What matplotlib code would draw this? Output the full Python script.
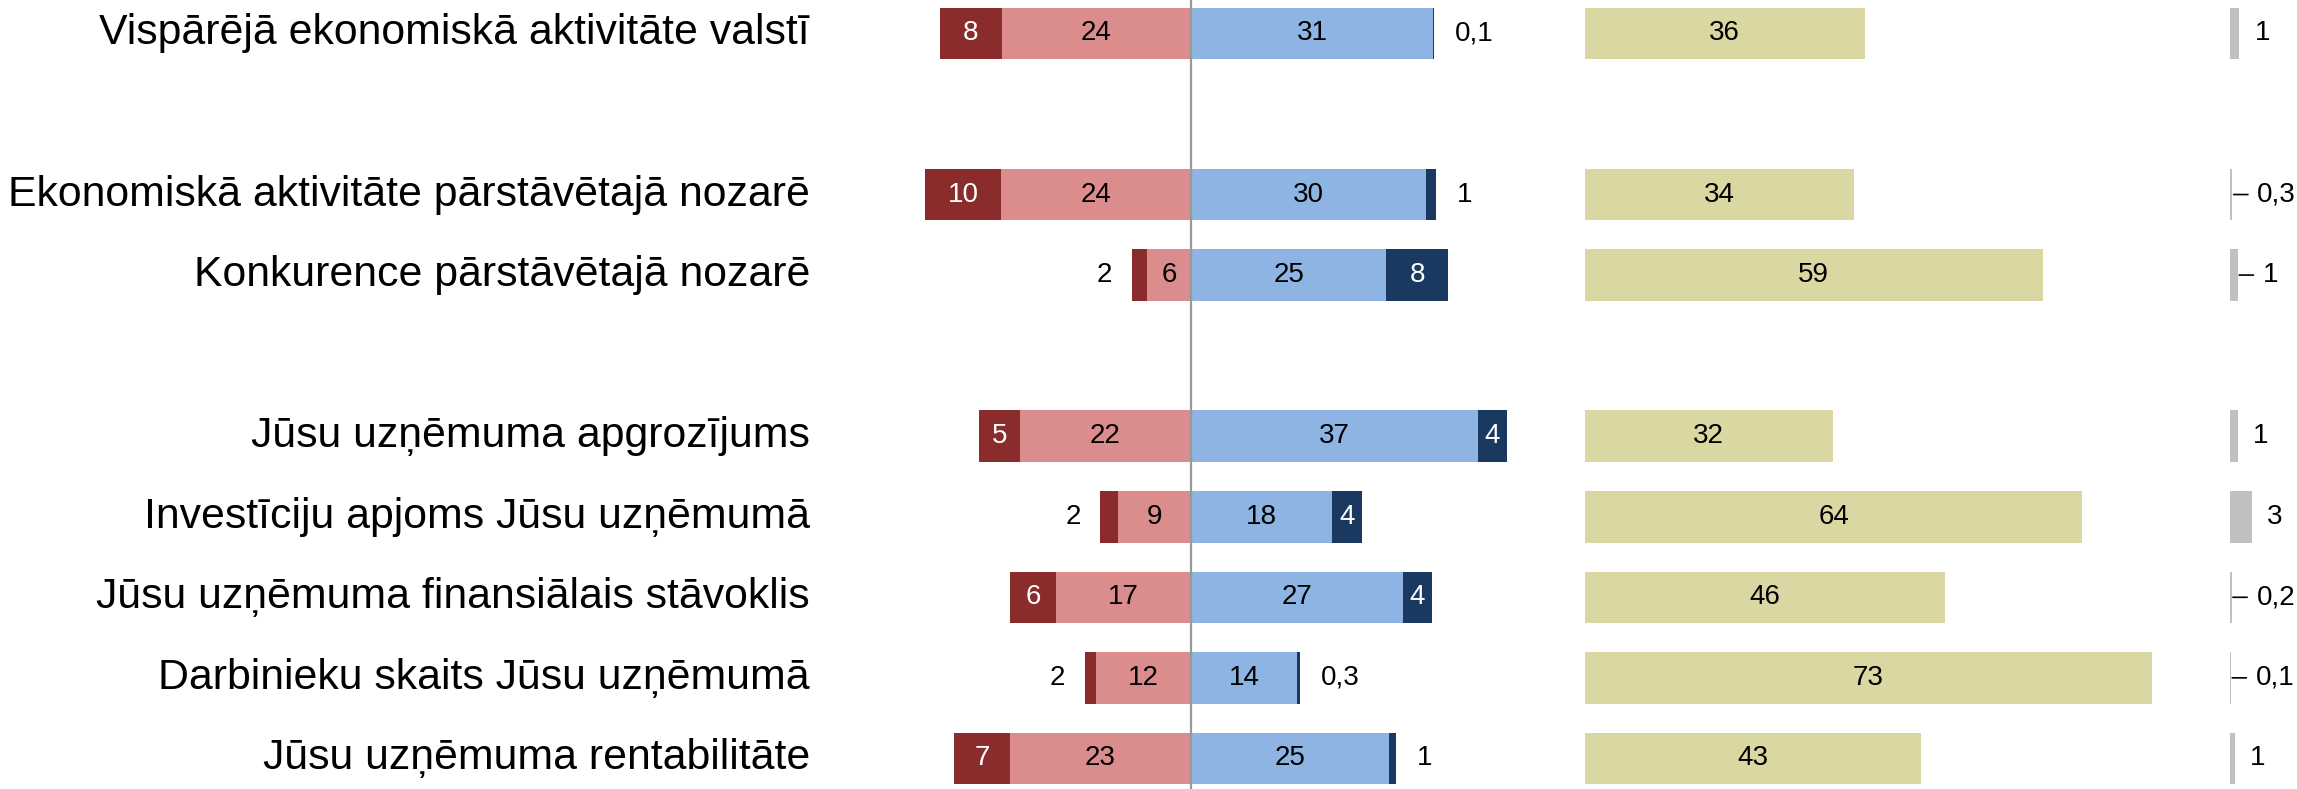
import numpy as np
import matplotlib
matplotlib.use("Agg")
import matplotlib.pyplot as plt
from matplotlib.transforms import blended_transform_factory

plt.rcParams['font.family'] = ['Liberation Sans', 'DejaVu Sans']

# data (percent of answers)
labels = ['Vispārējā ekonomiskā aktivitāte valstī',
          'Ekonomiskā aktivitāte pārstāvētajā nozarē',
          'Konkurence pārstāvētajā nozarē',
          'Jūsu uzņēmuma apgrozījums',
          'Investīciju apjoms Jūsu uzņēmumā',
          'Jūsu uzņēmuma finansiālais stāvoklis',
          'Darbinieku skaits Jūsu uzņēmumā',
          'Jūsu uzņēmuma rentabilitāte']
much_worse = [8.0, 9.8, 2.0, 5.3, 2.3, 5.9, 1.5, 7.1]
worse = [24.2, 24.3, 5.6, 21.9, 9.3, 17.3, 12.1, 23.2]
better = [31.0, 30.1, 25.0, 36.8, 18.1, 27.2, 13.6, 25.4]
much_better = [0.1, 1.3, 7.9, 3.6, 3.8, 3.6, 0.3, 0.8]
no_change = [35.8, 34.4, 58.6, 31.7, 63.7, 46.1, 72.6, 43.0]
no_answer = [1.2, 0.3, 1.0, 1.0, 2.8, 0.2, 0.1, 0.6]

rows = [0, 2, 3, 5, 6, 7, 8, 9]
leader_rows = [1, 2, 5, 6]   # grey labels drawn with a leader line

c_dred = '#8B2C2C'
c_lred = '#DA8D8C'
c_lblue = '#8DB4E3'
c_navy = '#1A3960'
c_khaki = '#DBD7A3'
c_grey = '#C0C0C0'


def fmt(v):
    if v < 0.5:
        return ('%.1f' % v).replace('.', ',')
    return str(int(round(v)))


W, H = 2297, 789
fig = plt.figure(figsize=(W / 100, H / 100), dpi=100)

ppu = 7.81          # pixels per percent, same in every panel
center = 1191
ylim = (9.38, -0.415)
bh = 0.64
fs = 20

ax1 = fig.add_axes([(center - 40 * ppu) / W, 0, 85 * ppu / W, 1])
ax1.set_xlim(-40, 45)
ax2 = fig.add_axes([1585 / W, 0, 80 * ppu / W, 1])
ax2.set_xlim(0, 80)
ax3 = fig.add_axes([2230 / W, 0, 8 * ppu / W, 1])
ax3.set_xlim(0, 8)
for ax in (ax1, ax2, ax3):
    ax.set_ylim(*ylim)
    ax.axis('off')

y = np.array(rows)
mw = np.array(much_worse)
w = np.array(worse)
b = np.array(better)
mb = np.array(much_better)

ax1.barh(y, -w, height=bh, color=c_lred)
ax1.barh(y, -mw, left=-w, height=bh, color=c_dred)
ax1.barh(y, b, height=bh, color=c_lblue)
ax1.barh(y, mb, left=b, height=bh, color=c_navy)
ax1.axvline(0, color='#999999', lw=1.6, zorder=5)

for i, yy in enumerate(rows):
    # light segments, labels inside
    ax1.text(-w[i] / 2, yy, fmt(w[i]), ha='center', va='center', fontsize=fs, color='black')
    ax1.text(b[i] / 2, yy, fmt(b[i]), ha='center', va='center', fontsize=fs, color='black')
    # dark red
    if mw[i] >= 3:
        ax1.text(-w[i] - mw[i] / 2, yy, fmt(mw[i]), ha='center', va='center',
                 fontsize=fs, color='white')
    else:
        ax1.annotate(fmt(mw[i]), (-w[i] - mw[i], yy), xytext=(-14, 0),
                     textcoords='offset points', ha='right', va='center',
                     fontsize=fs, color='black')
    # navy
    if mb[i] >= 3:
        ax1.text(b[i] + mb[i] / 2, yy, fmt(mb[i]), ha='center', va='center',
                 fontsize=fs, color='white')
    else:
        ax1.annotate(fmt(mb[i]), (b[i] + mb[i], yy), xytext=(15, 0),
                     textcoords='offset points', ha='left', va='center',
                     fontsize=fs, color='black')

# no change panel
ax2.barh(y, no_change, height=bh, color=c_khaki)
for i, yy in enumerate(rows):
    ax2.text(no_change[i] / 2, yy, fmt(no_change[i]), ha='center', va='center',
             fontsize=fs, color='black')

# no answer panel
ax3.barh(y, no_answer, height=bh, color=c_grey)
for i, yy in enumerate(rows):
    v = no_answer[i]
    if i in leader_rows:
        ax3.annotate('', xy=(v, yy), xytext=(v + 2.0, yy),
                     arrowprops=dict(arrowstyle='-', color='black', lw=1.2,
                                     shrinkA=0, shrinkB=1.0))
        ax3.annotate(fmt(v), (v, yy), xytext=(18, 0), textcoords='offset points',
                     ha='left', va='center', fontsize=fs, color='black')
    else:
        ax3.annotate(fmt(v), (v, yy), xytext=(11, 0), textcoords='offset points',
                     ha='left', va='center', fontsize=fs, color='black')

# category labels
tr = blended_transform_factory(fig.transFigure, ax1.transData)
for lab, yy in zip(labels, rows):
    fig.text(810 / W, yy, lab, transform=tr, ha='right', va='center', fontsize=30.8)

fig.savefig('out.png', dpi=100)
